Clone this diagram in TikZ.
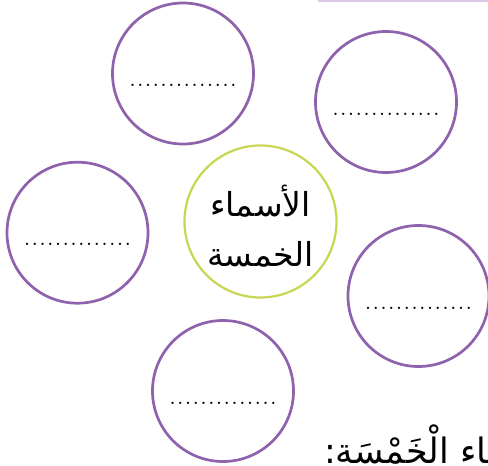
\documentclass[tikz,border=0pt]{standalone}
\usepackage{fontspec}
\TeXXeTstate=1
\newfontfamily\arabicfont[Script=Arabic]{DejaVu Sans}
\usetikzlibrary{positioning}

\definecolor{bubblepurple}{RGB}{142,98,172}
\definecolor{hubgreen}{RGB}{200,214,82}
\definecolor{barlilac}{RGB}{218,202,232}

\newcommand\blankline{\foreach \i in {1,...,13}{.\hskip 2.75pt}.}

\tikzset{
  bubble/.style={draw=bubblepurple, line width=2.7pt, circle, minimum size=141pt,
    inner sep=0pt, font=\bfseries\fontsize{16}{16}\selectfont, text height=26pt, text depth=0pt},
  hubbox/.style={draw=hubgreen, line width=2.2pt, circle, minimum size=152pt, inner sep=0pt},
  hubtext/.style={align=center, inner sep=0pt, font=\arabicfont\fontsize{33}{50}\selectfont},
}

\begin{document}
\begin{tikzpicture}[x=1pt, y=-1pt]
  \useasboundingbox (0,0) rectangle (488,466);
  \clip (0,0) rectangle (488,466);
  \fill[white] (0,0) rectangle (488,466);
  % lilac rule along the top
  \coordinate (barL) at (318,0.8);
  \coordinate (barR) at (488,0.8);
  \draw[barlilac, line width=2pt] (barL) -- (barR);
  % empty bubbles round the hub
  \foreach \n/\x/\y in {tl/183/73.5, tr/386/102, lf/77.5/232.7, rt/418.5/296, bt/223/391}{
    \node[bubble] (\n) at (\x,\y) {\blankline};
  }
  \node[hubbox] (hub) at (260.5,221.5) {};
  \node[hubtext] (hubtxt) at ([yshift=-5pt]hub.center) {\beginR الأسماء\endR\\\beginR الخمسة\endR};
  % heading cut off at the lower right
  \node[anchor=base west, inner sep=0pt, font=\arabicfont\fontsize{35}{38}\selectfont]
    (head) at (324,463) {\beginR الأسماء الْخَمْسَةِ:\endR};
\end{tikzpicture}
\end{document}
